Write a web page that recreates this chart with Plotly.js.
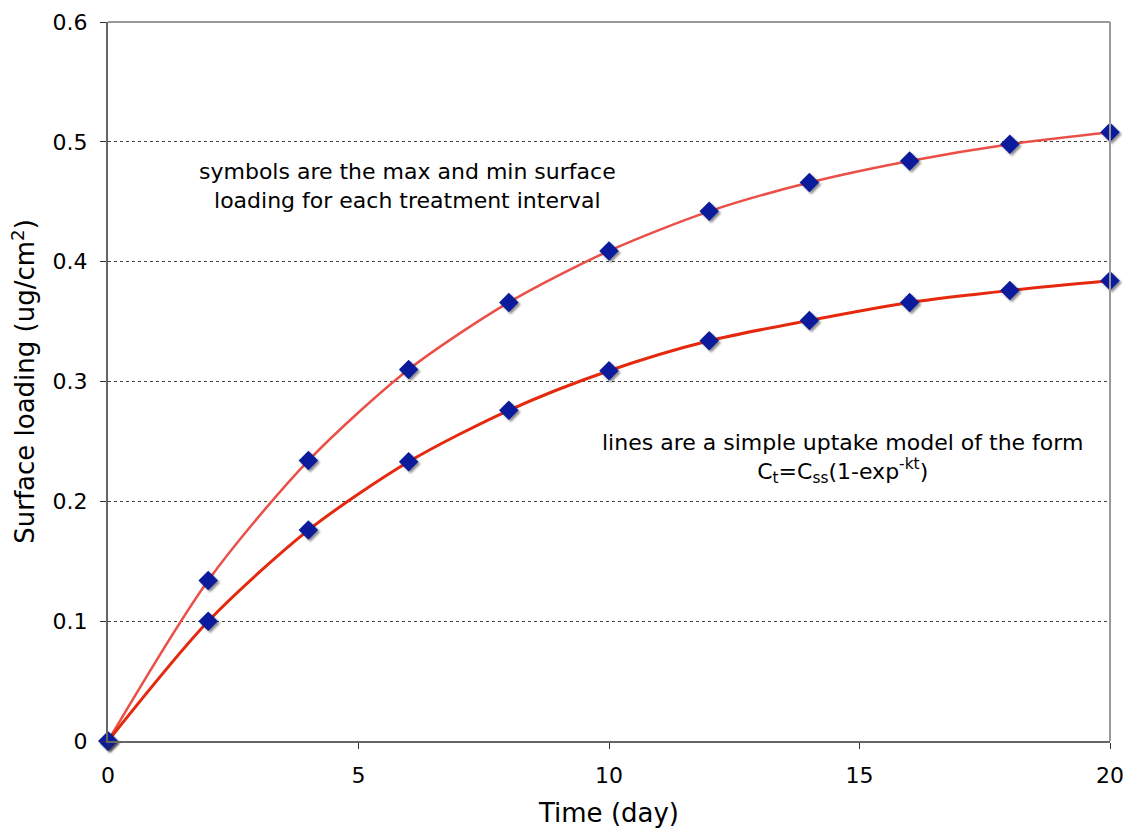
<!DOCTYPE html>
<html>
<head>
<meta charset="utf-8">
<script src="https://cdn.plot.ly/plotly-3.0.1.min.js"></script>
<style>
html,body{margin:0;padding:0;background:#fff;}
#chart{width:1125px;height:828px;}
#chart .scatterlayer .points path{filter:drop-shadow(2px 2px 1px rgba(0,0,0,0.45));}
</style>
</head>
<body>
<div id="chart"></div>
<script>
const timeDays = [0, 2, 4, 6, 8, 10, 12, 14, 16, 18, 20];
const maxLoading = [0, 0.134, 0.234, 0.310, 0.366, 0.409, 0.442, 0.466, 0.484, 0.498, 0.508];
const minLoading = [0, 0.100, 0.176, 0.233, 0.276, 0.309, 0.334, 0.351, 0.366, 0.376, 0.384];
const xTicks = [0, 5, 10, 15, 20];
const yTicks = [0, 0.1, 0.2, 0.3, 0.4, 0.5, 0.6];
const yTickLabels = ['0', '0.1', '0.2', '0.3', '0.4', '0.5', '0.6'];

const FONT = 'DejaVu Sans, Verdana, sans-serif';
const markerStyle = {symbol: 'diamond', size: 15, color: '#0b1b9c', line: {width: 0}};

const traces = [
  {x: timeDays, y: maxLoading, type: 'scatter', mode: 'lines',
   line: {color: '#ea5048', width: 2.5, shape: 'spline', smoothing: 0.8}, hoverinfo: 'skip'},
  {x: timeDays, y: minLoading, type: 'scatter', mode: 'lines',
   line: {color: '#e5290e', width: 3, shape: 'spline', smoothing: 0.8}, hoverinfo: 'skip'},
  {x: timeDays, y: maxLoading, type: 'scatter', mode: 'markers', marker: markerStyle, cliponaxis: false},
  {x: timeDays, y: minLoading, type: 'scatter', mode: 'markers', marker: markerStyle, cliponaxis: false}
];

const layout = {
  width: 1125, height: 828,
  margin: {l: 108, r: 15, t: 22, b: 87},
  paper_bgcolor: '#fff', plot_bgcolor: '#fff',
  showlegend: false,
  font: {family: FONT, color: '#000', size: 22},
  xaxis: {
    range: [0, 20], tickvals: xTicks, ticks: 'outside', ticklen: 6, tickcolor: '#333',
    showgrid: false, zeroline: false, showline: true, linecolor: '#666', linewidth: 2,
    tickfont: {size: 22, family: FONT}, ticklabelstandoff: 8,
    title: {text: 'Time (day)', font: {size: 26, family: FONT}, standoff: 18}
  },
  yaxis: {
    range: [0, 0.6], tickvals: yTicks, ticktext: yTickLabels, ticks: 'outside', ticklen: 6, tickcolor: '#333',
    showgrid: true, gridcolor: '#444', griddash: 'dot', gridwidth: 1, zeroline: false,
    showline: true, linecolor: '#666', linewidth: 2,
    tickfont: {size: 22, family: FONT}, ticklabelstandoff: 8,
    title: {text: 'Surface loading (ug/cm<sup>2</sup>)', font: {size: 26, family: FONT}, standoff: 10}
  },
  shapes: [
    {type: 'line', xref: 'paper', yref: 'paper', x0: 0, x1: 1, y0: 1, y1: 1, line: {color: '#999', width: 2}},
    {type: 'line', xref: 'paper', yref: 'paper', x0: 1, x1: 1, y0: 0, y1: 1, line: {color: '#999', width: 2}}
  ],
  annotations: [
    {x: 5.97, y: 0.463, xref: 'x', yref: 'y', showarrow: false, align: 'center',
     text: 'symbols are the max and min surface<br>loading for each treatment interval',
     font: {size: 22, family: FONT, color: '#000'}},
    {x: 14.67, y: 0.2355, xref: 'x', yref: 'y', showarrow: false, align: 'center',
     text: 'lines are a simple uptake model of the form<br>C<sub>t</sub>=C<sub>ss</sub>(1-exp<sup>-kt</sup>)',
     font: {size: 22, family: FONT, color: '#000'}}
  ]
};

Plotly.newPlot('chart', traces, layout, {displayModeBar: false, staticPlot: true});
</script>
</body>
</html>
